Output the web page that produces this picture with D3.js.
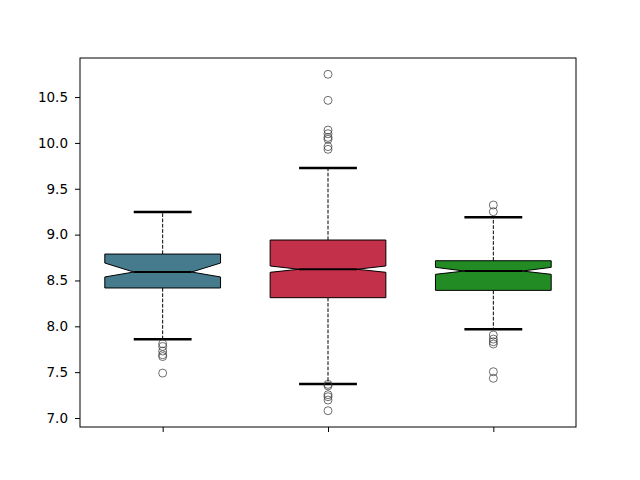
<!DOCTYPE html>
<html>
<head>
<meta charset="utf-8">
<script src="https://cdn.jsdelivr.net/npm/d3@7"></script>
<style>
  body { margin: 0; background: white; }
  text { font-family: "DejaVu Sans", sans-serif; }
</style>
</head>
<body>
<div id="viz"></div>
<script>
// box statistics
const groups = ["A", "B", "C"];
const colors = ["#457b8d", "#c3304a", "#238b24"];
const q1 = [8.418, 8.312, 8.392];
const medians = [8.592, 8.622, 8.603];
const q3 = [8.788, 8.941, 8.715];
const notchLo = [8.538, 8.589, 8.567];
const notchHi = [8.69, 8.658, 8.643];
const whiskerLo = [7.86, 7.371, 7.967];
const whiskerHi = [9.246, 9.726, 9.189];
const outliers = [
  [7.81, 7.78, 7.73, 7.69, 7.67, 7.49],
  [10.748, 10.464, 10.14, 10.10, 10.06, 10.04, 9.96, 9.93, 7.367, 7.35, 7.254, 7.232, 7.196, 7.08],
  [9.323, 9.25, 7.905, 7.861, 7.832, 7.807, 7.505, 7.433]
];
const yTicks = [7.0, 7.5, 8.0, 8.5, 9.0, 9.5, 10.0, 10.5];

const width = 640, height = 480;
const margin = {left: 80, right: 64, top: 58, bottom: 53};

const svg = d3.select("#viz").append("svg")
  .attr("width", width)
  .attr("height", height);

const x = d3.scaleLinear()
  .domain([0.5, 3.5])
  .range([margin.left, width - margin.right]);

const y = d3.scaleLinear()
  .domain([6.902, 10.926])
  .range([height - margin.bottom, margin.top]);

const boxW = x(1.35) - x(1);  // half width
const cap = boxW / 2;

groups.forEach((g, i) => {
  const cx = x(i + 1);
  const l = cx - boxW, r = cx + boxW;

  // whiskers
  [[q1[i], whiskerLo[i]], [q3[i], whiskerHi[i]]].forEach(([a, b]) => {
    svg.append("line")
      .attr("x1", cx).attr("x2", cx)
      .attr("y1", y(a)).attr("y2", y(b))
      .attr("stroke", "black")
      .attr("stroke-width", 1)
      .attr("stroke-dasharray", "3.7,1.6");
    svg.append("line")
      .attr("x1", cx - cap).attr("x2", cx + cap)
      .attr("y1", y(b)).attr("y2", y(b))
      .attr("stroke", "black")
      .attr("stroke-width", 2.5);
  });

  // notched box
  const pts = [
    [l, y(q1[i])], [r, y(q1[i])], [r, y(notchLo[i])], [r - cap, y(medians[i])],
    [r, y(notchHi[i])], [r, y(q3[i])], [l, y(q3[i])], [l, y(notchHi[i])],
    [l + cap, y(medians[i])], [l, y(notchLo[i])]
  ];
  svg.append("path")
    .attr("d", d3.line()(pts) + "Z")
    .attr("fill", colors[i])
    .attr("stroke", "black")
    .attr("stroke-width", 1);

  svg.append("line")
    .attr("x1", l + cap).attr("x2", r - cap)
    .attr("y1", y(medians[i])).attr("y2", y(medians[i]))
    .attr("stroke", "black")
    .attr("stroke-width", 2);

  svg.selectAll(null)
    .data(outliers[i])
    .enter()
    .append("circle")
    .attr("cx", cx)
    .attr("cy", d => y(d))
    .attr("r", 4)
    .attr("fill", "none")
    .attr("stroke", "#333")
    .attr("stroke-opacity", 0.7)
    .attr("stroke-width", 1);
});

// frame
svg.append("rect")
  .attr("x", margin.left).attr("y", margin.top)
  .attr("width", width - margin.left - margin.right)
  .attr("height", height - margin.top - margin.bottom)
  .attr("fill", "none")
  .attr("stroke", "black")
  .attr("stroke-width", 1);

const yAxis = svg.append("g")
  .attr("transform", `translate(${margin.left},0)`)
  .call(d3.axisLeft(y).tickValues(yTicks).tickFormat(d3.format(".1f")).tickSize(5).tickPadding(7));
yAxis.select(".domain").remove();
yAxis.selectAll("text").attr("font-size", 13.5).attr("fill", "black").style("font-family", "DejaVu Sans");

const xAxis = svg.append("g")
  .attr("transform", `translate(0,${height - margin.bottom})`)
  .call(d3.axisBottom(x).tickValues([1, 2, 3]).tickFormat("").tickSize(5));
xAxis.select(".domain").remove();
</script>
</body>
</html>
